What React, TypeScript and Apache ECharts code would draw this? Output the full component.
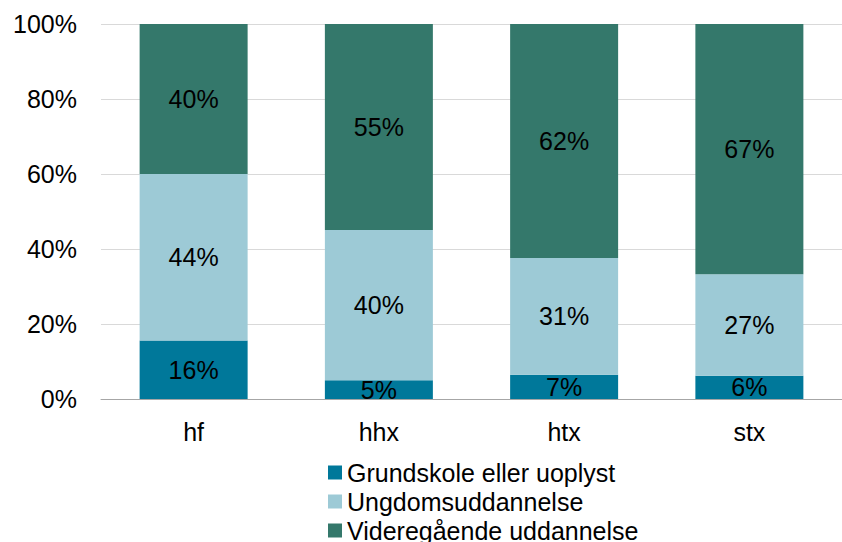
import React, { useEffect, useRef } from "react";
import * as echarts from "echarts";

const categories = ["hf", "hhx", "htx", "stx"];
const seriesNames = ["Grundskole eller uoplyst", "Ungdomsuddannelse", "Videregående uddannelse"];
const grundskole = [15.6, 5.0, 6.5, 6.2];
const ungdom = [44.4, 40.1, 31.1, 27.1];
const videregaaende = [40.0, 54.9, 62.4, 66.7];
const yTicks = [0, 20, 40, 60, 80, 100];
const colors = ["#00789A", "#9DCAD6", "#34786B"];

const FONT = "'Liberation Sans', Arial, sans-serif";
const FS = 25;

export default function App() {
  const ref = useRef<HTMLDivElement>(null);
  useEffect(() => {
    document.body.style.margin = "0";
    if (!ref.current) return;
    const chart = echarts.init(ref.current, null, { renderer: "svg" });
    const values = [grundskole, ungdom, videregaaende];
    chart.setOption({
      animation: false,
      textStyle: { fontFamily: FONT },
      grid: { left: 101, top: 24, width: 748, height: 375 },
      legend: seriesNames.map((name, i) => ({
        orient: "vertical",
        left: 328,
        top: 460 + i * 29,
        padding: 0,
        itemWidth: 14,
        itemHeight: 14,
        icon: "rect",
        textStyle: { fontSize: FS, color: "#000", fontFamily: FONT },
        data: [name],
      })),
      xAxis: {
        type: "category",
        data: categories,
        axisTick: { show: false },
        axisLine: { lineStyle: { color: "#a6a6a6", width: 1 } },
        axisLabel: { fontSize: FS, color: "#000", margin: 20, fontFamily: FONT },
      },
      yAxis: {
        type: "value",
        min: yTicks[0],
        max: yTicks[yTicks.length - 1],
        interval: 20,
        axisLine: { show: false },
        axisTick: { show: false },
        splitLine: { lineStyle: { color: "#d9d9d9", width: 1 } },
        axisLabel: { fontSize: FS, color: "#000", margin: 24, formatter: "{value}%", fontFamily: FONT },
      },
      series: seriesNames.map((name, i) => ({
        name,
        type: "bar",
        stack: "total",
        barWidth: 108,
        data: values[i],
        itemStyle: { color: colors[i] },
        label: {
          show: true,
          position: "inside",
          fontSize: FS,
          color: "#000",
          fontFamily: FONT,
          formatter: (p: any) => Math.round(p.value) + "%",
        },
      })),
    });
    return () => chart.dispose();
  }, []);
  return <div ref={ref} style={{ width: 842, height: 542 }} />;
}
